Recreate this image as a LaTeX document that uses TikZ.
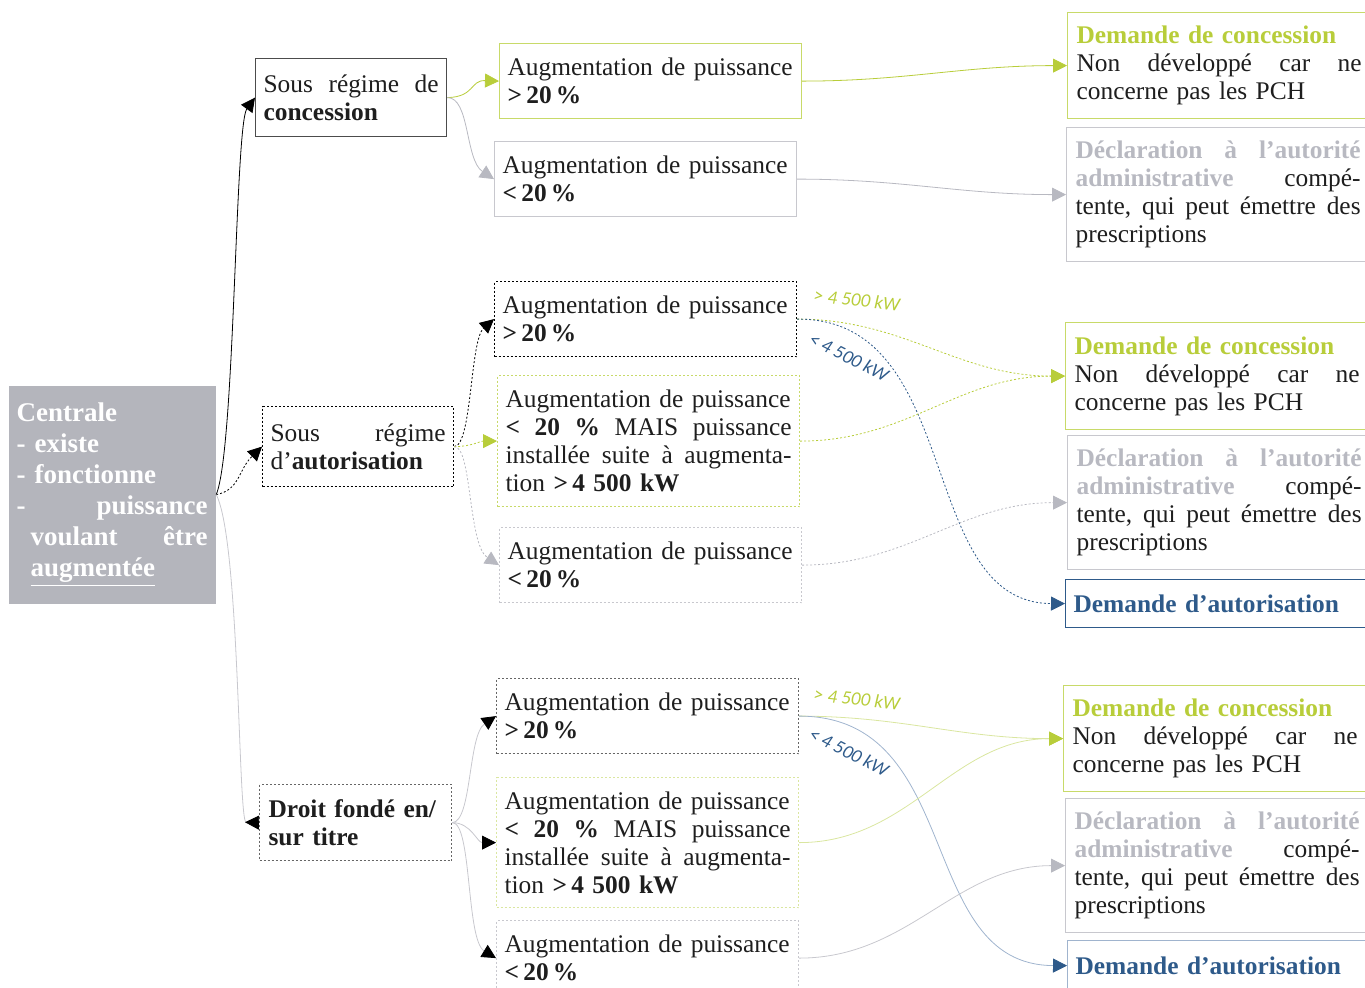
\documentclass[tikz,border=0pt]{standalone}
\usepackage{fontspec}
\setmainfont{Liberation Serif}
\newfontfamily\lblfont{Carlito}
\usetikzlibrary{arrows.meta}

\definecolor{grn}{RGB}{184,205,58}
\definecolor{grnl}{RGB}{200,218,105}
\definecolor{grnll}{RGB}{218,230,160}
\definecolor{gry}{RGB}{184,185,193}
\definecolor{gryl}{RGB}{200,200,206}
\definecolor{blu}{RGB}{46,90,138}
\definecolor{blul}{RGB}{160,180,206}
\definecolor{boxfill}{RGB}{180,181,188}
\definecolor{ink}{RGB}{30,30,30}

\begin{document}
\begin{tikzpicture}[x=0.5pt, y=-0.5pt, align=left]
\tikzstyle{bx} = [draw, anchor=north west, inner xsep=4pt, inner ysep=0pt, text=ink, line width=0.6pt, font=\fontsize{12.7}{14}\selectfont]
\tikzstyle{col2} = [bx, text width=143pt, minimum height=37.5pt]
\tikzstyle{col3} = [bx, text width=142.5pt, inner xsep=4.5pt]
\tikzstyle{dot} = [dash pattern=on 1pt off 1pt]
\tikzstyle{e} = [line width=0.4pt, -{Triangle[length=7pt,width=7pt]}]
\tikzstyle{lbl} = [font=\lblfont\itshape\fontsize{9.5}{11}\selectfont]

\useasboundingbox (0,0) rectangle (1365,987);
\clip (0,0) rectangle (1365,987);

% starting point
\node[bx, fill=boxfill, draw=none, text=white, text width=95.5pt, minimum height=109pt,
  font=\fontsize{13.5}{15.5}\selectfont\bfseries] (C) at (8,385)
  {Centrale\\ - existe\\ - fonctionne\\ -\hfill puissance\\
   \hspace*{7pt}voulant\hfill être\\ \hspace*{7pt}\underline{augmentée}};

% regimes
\node[bx, draw=black!70, text width=87.5pt, minimum height=39pt] (SC) at (255,58)
  {Sous\hfill régime\hfill de\\ \textbf{concession}};
\node[bx, dot, draw=black, text width=87.5pt, minimum height=40pt] (SA) at (262,406)
  {Sous\hfill régime\\ d’\textbf{autorisation}};
\node[bx, dot, draw=black!60, text width=87pt, inner xsep=4.5pt, minimum height=38pt] (DF) at (259,784)
  {\textbf{Droit fondé en/}\\ \textbf{sur titre}};

% power increase
\node[col2, draw=grnl] (A1) at (499,43) {Augmentation de puissance\\ \textbf{>\,20\,\%}};
\node[col2, draw=gryl] (A2) at (494,141) {Augmentation de puissance\\ \textbf{<\,20\,\%}};
\node[col2, dot, draw=black] (B1) at (494,281) {Augmentation de puissance\\ \textbf{>\,20\,\%}};
\node[col2, dot, draw=grnl, minimum height=65.5pt] (B2) at (497,375)
  {Augmentation de puissance\\ \textbf{<}\hfill\textbf{20}\hfill\textbf{\%}\hfill MAIS\hfill puissance\\
   installée\hfill suite\hfill à\hfill augmenta-\\ tion \textbf{>\,4~500 kW}};
\node[col2, dot, draw=gryl] (B3) at (499,527) {Augmentation de puissance\\ \textbf{<\,20\,\%}};
\node[col2, dot, draw=black!60] (C1) at (496,678) {Augmentation de puissance\\ \textbf{>\,20\,\%}};
\node[col2, dot, draw=grnll, minimum height=65pt] (C2) at (496,777)
  {Augmentation de puissance\\ \textbf{<}\hfill\textbf{20}\hfill\textbf{\%}\hfill MAIS\hfill puissance\\
   installée\hfill suite\hfill à\hfill augmenta-\\ tion \textbf{>\,4~500 kW}};
\node[col2, dot, draw=gryl] (C3) at (496,920) {Augmentation de puissance\\ \textbf{<\,20\,\%}};

% outcomes
\node[col3, draw=grnl, minimum height=53pt] (D1) at (1067,12)
  {{\color{grn}\bfseries Demande de concession}\\ Non\hfill développé\hfill car\hfill ne\\ concerne pas les PCH};
\node[col3, draw=gryl, minimum height=67pt] (D2) at (1066,127)
  {{\color{gry}\bfseries Déclaration\hfill à\hfill l’autorité}\\ {\color{gry}\bfseries administrative}\hfill compé-\\
   tente,\hfill qui\hfill peut\hfill émettre\hfill des\\ prescriptions};
\node[col3, draw=grnl, minimum height=53.5pt] (E1) at (1065,322)
  {{\color{grn}\bfseries Demande de concession}\\ Non\hfill développé\hfill car\hfill ne\\ concerne pas les PCH};
\node[col3, draw=gryl, minimum height=67pt] (E2) at (1067,435)
  {{\color{gry}\bfseries Déclaration\hfill à\hfill l’autorité}\\ {\color{gry}\bfseries administrative}\hfill compé-\\
   tente,\hfill qui\hfill peut\hfill émettre\hfill des\\ prescriptions};
\node[col3, draw=blu, minimum height=24pt, inner xsep=4pt] (E3) at (1065,579)
  {{\color{blu}\bfseries Demande d’autorisation}};
\node[col3, draw=grnl, minimum height=53pt] (F1) at (1063,685)
  {{\color{grn}\bfseries Demande de concession}\\ Non\hfill développé\hfill car\hfill ne\\ concerne pas les PCH};
\node[col3, draw=gryl, minimum height=67pt] (F2) at (1065,798)
  {{\color{gry}\bfseries Déclaration\hfill à\hfill l’autorité}\\ {\color{gry}\bfseries administrative}\hfill compé-\\
   tente,\hfill qui\hfill peut\hfill émettre\hfill des\\ prescriptions};
\node[col3, draw=blul, minimum height=25pt, inner xsep=4pt] (F3) at (1067,940)
  {{\color{blu}\bfseries Demande d’autorisation}};

% threshold labels
\node[lbl, text=grn, rotate=-6] (L1) at (857,300) {> 4~500 kW};
\node[lbl, text=blu, rotate=-27] (L2) at (849,357) {< 4~500 kW};
\node[lbl, text=grn, rotate=-6] (L3) at (857,699) {> 4~500 kW};
\node[lbl, text=blu, rotate=-27] (L4) at (849,752) {< 4~500 kW};

% from the plant
\draw[e] (C.east) .. controls (235,450) and (235,125) .. (SC.west);
\draw[e, dot] (C.east) .. controls (240,490) and (238,470) .. (SA.west);
\draw[e, draw=gryl, -{Triangle[reversed,length=7pt,width=7pt,color=black]}] (C.east) .. controls (240,540) and (238,822) .. (DF.west);

% concession
\draw[e, draw=grn] (SC.east) .. controls (475,97) and (470,80) .. (A1.west);
\draw[e, draw=gry] (SC.east) .. controls (470,97) and (465,160) .. (A2.west);
\draw[e, draw=grn] (A1.east) to[out=0, in=180] (D1.west);
\draw[e, draw=gry] (A2.east) to[out=0, in=180] (D2.west);

% autorisation
\draw[e, dot] (SA.east) .. controls (472,446) and (470,340) .. (B1.west);
\draw[e, dot, draw=grn] (SA.east) to[out=0, in=180] (B2.west);
\draw[e, dot, draw=gry] (SA.east) .. controls (472,446) and (468,545) .. (B3.west);
\draw[e, dot, draw=grn] (B1.east) to[out=0, in=180] (E1.west);
\draw[e, dot, draw=blu] (B1.east) .. controls (965,318) and (915,603) .. (E3.west);
\draw[e, dot, draw=grn] (B2.east) to[out=0, in=180] (E1.west);
\draw[e, dot, draw=gry] (B3.east) to[out=0, in=180] (E2.west);

% droit fonde en titre
\draw[e, draw=gryl, -{Triangle[length=7pt,width=7pt,color=black]}] (DF.east) .. controls (472,822) and (468,735) .. (C1.west);
\draw[e, draw=gryl, -{Triangle[length=7pt,width=7pt,color=black]}] (DF.east) to[out=0, in=180] (C2.west);
\draw[e, draw=gryl, -{Triangle[length=7pt,width=7pt,color=black]}] (DF.east) .. controls (472,822) and (466,940) .. (C3.west);
\draw[e, draw=grnll, -{Triangle[length=7pt,width=7pt,color=grn]}] (C1.east) to[out=0, in=180] (F1.west);
\draw[e, draw=blul, -{Triangle[length=7pt,width=7pt,color=blu]}] (C1.east) .. controls (965,716) and (915,965) .. (F3.west);
\draw[e, draw=grnll, -{Triangle[length=7pt,width=7pt,color=grn]}] (C2.east) to[out=0, in=180] (F1.west);
\draw[e, draw=gryl, -{Triangle[length=7pt,width=7pt,color=gry]}] (C3.east) to[out=0, in=180] (F2.west);
\end{tikzpicture}
\end{document}
